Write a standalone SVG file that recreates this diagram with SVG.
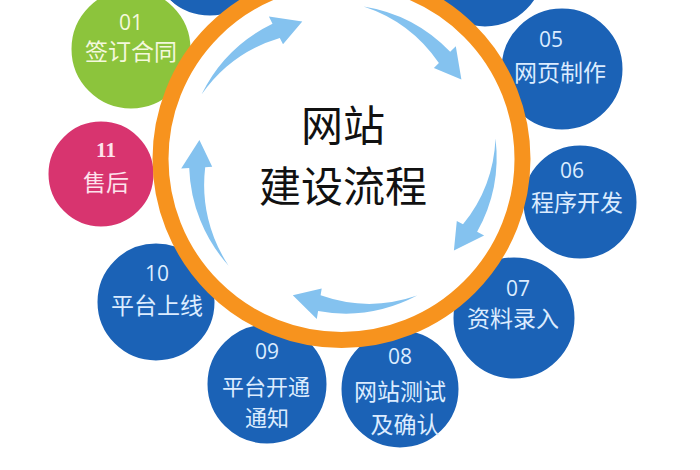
<svg xmlns="http://www.w3.org/2000/svg" width="700" height="470" viewBox="0 0 700 470">
  <style>
    .blue { fill: #1b62b6; stroke: #ffffff; stroke-width: 3; }
    .green { fill: #8cc43c; stroke: #ffffff; stroke-width: 3; }
    .pink { fill: #d8346f; stroke: #ffffff; stroke-width: 3; }
    .num { font-family: "Open Sans", "Liberation Sans", sans-serif; font-size: 21px; text-anchor: middle; }
    .lbl { font-family: "Noto Sans CJK SC", "Noto Sans", sans-serif; font-size: 23px; text-anchor: middle; }
    .sm { font-size: 22px; }
    .tb { fill: #dcecff; }
    .tg { fill: #f4f8dc; }
    .tp { fill: #fde3ec; }
    .title { font-family: "Noto Sans CJK SC", "Noto Sans", sans-serif; font-size: 42px; fill: #111111; text-anchor: middle; }
    .arrow { fill: #84c2ef; }
  </style>
  <rect x="0" y="0" width="700" height="470" fill="#ffffff"/>

  <g id="step-top-left"><circle class="blue" cx="210" cy="-44" r="61"/></g>
  <g id="step-top-right"><circle class="blue" cx="485" cy="-32" r="60"/></g>

  <g id="step-01">
    <circle class="green" cx="131" cy="49" r="61"/>
    <text class="num tg" x="131" y="29.5">01</text>
    <text class="lbl tg" x="131" y="60">签订合同</text>
  </g>
  <g id="step-05">
    <circle class="blue" cx="562" cy="69" r="62"/>
    <text class="num tb" x="551" y="46.5">05</text>
    <text class="lbl tb" x="560" y="81">网页制作</text>
  </g>
  <g id="step-06">
    <circle class="blue" cx="580" cy="202" r="58"/>
    <text class="num tb" x="572" y="177.5">06</text>
    <text class="lbl tb" x="577" y="211">程序开发</text>
  </g>
  <g id="step-07">
    <circle class="blue" cx="514" cy="318" r="62"/>
    <text class="num tb" x="518" y="295.5">07</text>
    <text class="lbl tb" x="513" y="327">资料录入</text>
  </g>
  <g id="step-08">
    <circle class="blue" cx="400" cy="389" r="60"/>
    <text class="num tb" x="400" y="363.5">08</text>
    <text class="lbl tb" x="400" y="400">网站测试</text>
    <text class="lbl tb" x="405" y="433">及确认</text>
  </g>
  <g id="step-09">
    <circle class="blue" cx="267" cy="384" r="61"/>
    <text class="num tb" x="267" y="358.5">09</text>
    <text class="lbl sm tb" x="266" y="395">平台开通</text>
    <text class="lbl sm tb" x="267" y="426">通知</text>
  </g>
  <g id="step-10">
    <circle class="blue" cx="156" cy="302" r="60"/>
    <text class="num tb" x="157" y="280.5">10</text>
    <text class="lbl tb" x="157" y="314">平台上线</text>
  </g>
  <g id="step-11">
    <circle class="pink" cx="101" cy="174" r="54"/>
    <text class="num tp" x="106" y="156.5" style="font-family: 'Liberation Serif', serif; font-weight: bold;">11</text>
    <text class="lbl tp" x="106" y="191">售后</text>
  </g>

  <g id="center">
    <circle cx="341.5" cy="159" r="181" fill="#ffffff" stroke="#f7931e" stroke-width="16"/>
    <text class="title" x="343" y="141">网站</text>
    <text class="title" x="343" y="202">建设流程</text>
  </g>

  <g id="connectors">
    <path class="arrow" d="M201.5,94.5 A154,154 0 0 1 272.5,23.7 L268.9,16.5 L302.3,21.6 L283,44.2 L279.8,37.9 A146,146 0 0 0 201.5,94.5 Z"/>
    <path class="arrow" d="M363.6,6.5 A154,154 0 0 1 450.2,51.8 L455.8,46.2 L461.4,79.5 L433.9,68.1 L438.9,63.1 A146,146 0 0 0 363.6,6.5 Z"/>
    <path class="arrow" d="M495.5,138.4 A154,154 0 0 1 477.1,231.8 L484.1,235.6 L453.9,250.6 L456.8,221 L463,224.3 A146,146 0 0 0 495.5,138.4 Z"/>
    <path class="arrow" d="M417.1,295.6 A154,154 0 0 1 318.1,311.1 L316.8,319 L292.8,295.3 L321.7,288.4 L320.6,295.3 A146,146 0 0 0 417.1,295.6 Z"/>
    <path class="arrow" d="M228.6,265.7 A154,154 0 0 1 189.2,168 L181.2,168.4 L199.4,140 L212.2,166.8 L205.2,167.2 A146,146 0 0 0 228.6,265.7 Z"/>
  </g>
</svg>
